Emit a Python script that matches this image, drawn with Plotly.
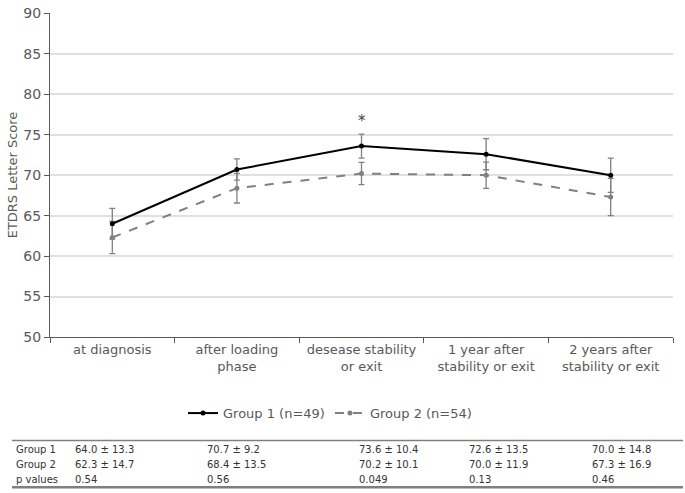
import plotly.graph_objects as go
import math

categories = ["at diagnosis", "after loading<br>phase", "desease stability<br>or exit",
              "1 year after<br>stability or exit", "2 years after<br>stability or exit"]
g1_mean = [64.0, 70.7, 73.6, 72.6, 70.0]
g1_sd = [13.3, 9.2, 10.4, 13.5, 14.8]
g1_n = 49
g2_mean = [62.3, 68.4, 70.2, 70.0, 67.3]
g2_sd = [14.7, 13.5, 10.1, 11.9, 16.9]
g2_n = 54
p_values = ["0.54", "0.56", "0.049", "0.13", "0.46"]
row_labels = ["Group 1", "Group 2", "p values"]
y_ticks = [50, 55, 60, 65, 70, 75, 80, 85, 90]

g1_se = [s / math.sqrt(g1_n) for s in g1_sd]
g2_se = [s / math.sqrt(g2_n) for s in g2_sd]

FONT = "DejaVu Sans"
TXT = "#595959"

fig = go.Figure()
fig.add_trace(go.Scatter(
    x=categories, y=g2_mean, mode="lines+markers", name="Group 2 (n=54)",
    line=dict(color="#808080", width=2, dash="dash"),
    marker=dict(color="#808080", size=5),
    error_y=dict(type="data", array=g2_se, color="#808080", thickness=1.3, width=3),
))
fig.add_trace(go.Scatter(
    x=categories, y=g1_mean, mode="lines+markers", name="Group 1 (n=49)",
    line=dict(color="#000000", width=2),
    marker=dict(color="#000000", size=5),
    error_y=dict(type="data", array=g1_se, color="#808080", thickness=1.3, width=3),
))

# significance marker
fig.add_annotation(x=categories[2], y=g1_mean[2] + g1_se[2], text="*", showarrow=False,
                   yshift=13, font=dict(family=FONT, size=15, color="#404040"))

# Table below the chart (pixel -> paper helpers)
L, R, T, B = 50, 12, 5, 156
W, H = 685 - L - R, 493 - T - B
def px(x):
    return (x - L) / W
def py(y):
    return (493 - B - y) / H

col_x = [73, 205, 357, 467, 590]
row_y = [452.7, 468, 483.3]
rows = [
    [f"{m:.1f} ± {s:.1f}" for m, s in zip(g1_mean, g1_sd)],
    [f"{m:.1f} ± {s:.1f}" for m, s in zip(g2_mean, g2_sd)],
    p_values,
]
for ri, (lab, vals) in enumerate(zip(row_labels, rows)):
    fig.add_annotation(x=px(14), y=py(row_y[ri]), xref="paper", yref="paper", text=lab,
                       showarrow=False, xanchor="left", yanchor="middle",
                       font=dict(family=FONT, size=10, color="#333333"))
    for ci, v in enumerate(vals):
        fig.add_annotation(x=px(col_x[ci]), y=py(row_y[ri]), xref="paper", yref="paper",
                           text=v, showarrow=False, xanchor="left", yanchor="middle",
                           font=dict(family=FONT, size=10, color="#333333"))

fig.add_shape(type="line", xref="paper", yref="paper", x0=px(12), x1=px(683),
              y0=py(443), y1=py(443), line=dict(color="#7f7f7f", width=1.5))
fig.add_shape(type="line", xref="paper", yref="paper", x0=px(12), x1=px(683),
              y0=py(491), y1=py(491), line=dict(color="#7f7f7f", width=2.5))

fig.update_layout(
    width=685, height=493,
    margin=dict(l=L, r=R, t=T, b=B),
    paper_bgcolor="white", plot_bgcolor="white",
    font=dict(family=FONT, color=TXT),
    showlegend=True,
    legend=dict(orientation="h", x=px(330), xanchor="center", y=py(415), yanchor="middle",
                font=dict(family=FONT, size=13, color=TXT), traceorder="reversed",
                itemwidth=30, bgcolor="rgba(0,0,0,0)"),
    xaxis=dict(type="category", range=[-0.5, 4.5], showline=True, linecolor="#595959",
               linewidth=1, ticks="outside", tickson="boundaries", ticklen=5,
               tickcolor="#595959", showgrid=False, tickfont=dict(size=13, color=TXT),
               zeroline=False),
    yaxis=dict(range=[50, 90.05], tickvals=y_ticks, showline=True, linecolor="#595959",
               linewidth=1, ticks="outside", ticklen=5, tickcolor="#595959", showgrid=True,
               gridcolor="#e0e0e0", gridwidth=1.5, zeroline=False,
               tickfont=dict(size=14, color=TXT), ticklabeloverflow="allow",
               title=dict(text="ETDRS Letter Score", font=dict(size=13, color=TXT), standoff=2)),
)

fig.write_html("out.html", config={"displayModeBar": False},
               post_script="document.body.style.margin='0';document.body.style.overflow='hidden';")
